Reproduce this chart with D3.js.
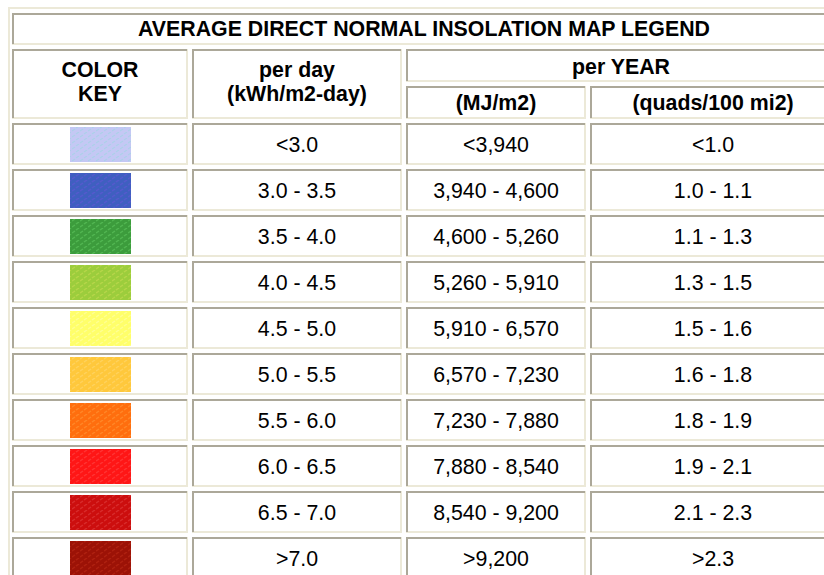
<!DOCTYPE html>
<html>
<head>
<meta charset="utf-8">
<script src="https://cdn.jsdelivr.net/npm/d3@7"></script>
<style>
  html, body { margin: 0; padding: 0; background: #ffffff; }
  svg { display: block; }
</style>
</head>
<body>
<svg id="chart" width="824" height="575"></svg>
<script>
// ---- data ----
const title = "AVERAGE DIRECT NORMAL INSOLATION MAP LEGEND";
const headerColorKey = ["COLOR", "KEY"];
const headerPerDay = ["per day", "(kWh/m2-day)"];
const headerPerYear = "per YEAR";
const headerUnits = ["(MJ/m2)", "(quads/100 mi2)"];
const perDay = ["<3.0", "3.0 - 3.5", "3.5 - 4.0", "4.0 - 4.5", "4.5 - 5.0", "5.0 - 5.5", "5.5 - 6.0", "6.0 - 6.5", "6.5 - 7.0", ">7.0"];
const perYearMJ = ["<3,940", "3,940 - 4,600", "4,600 - 5,260", "5,260 - 5,910", "5,910 - 6,570", "6,570 - 7,230", "7,230 - 7,880", "7,880 - 8,540", "8,540 - 9,200", ">9,200"];
const perYearQuads = ["<1.0", "1.0 - 1.1", "1.1 - 1.3", "1.3 - 1.5", "1.5 - 1.6", "1.6 - 1.8", "1.8 - 1.9", "1.9 - 2.1", "2.1 - 2.3", ">2.3"];
const swatchColors = ["#c4c8f4", "#3f5fc0", "#3c9c3c", "#9ccd3c", "#ffff6a", "#ffc83c", "#ff6e0e", "#ff1616", "#cc0e0e", "#9c1206"];
const swatchAccents = ["#a6d2e6", "#5b56d2", "#56bc56", "#bcd84c", "#ffff9c", "#ffd464", "#ff8c2c", "#ff3a3a", "#da3232", "#b42412"];

// ---- layout ----
const svg = d3.select("#chart");
const GRAY = "#aca899", BEIGE = "#ece9d8";
const FS = 21.33;
const FONT = "'Liberation Sans', Arial, Helvetica, sans-serif";
const colX = [12, 192, 406, 590];
const colW = [176, 210, 180, 246];

const rowScale = d3.scaleBand()
  .domain(d3.range(perDay.length))
  .range([123, 123 + 46 * perDay.length - 4])
  .paddingInner(4 / 46)
  .paddingOuter(0)
  .align(0);

// patterns
const defs = svg.append("defs");
swatchColors.forEach((c, i) => {
  const p = defs.append("pattern")
    .attr("id", "sw" + i).attr("patternUnits", "userSpaceOnUse")
    .attr("width", 8).attr("height", 6);
  p.append("rect").attr("width", 8).attr("height", 6).attr("fill", c);
  p.append("path").attr("d", "M0,5 L3,3 M4,2 L7,0")
    .attr("stroke", swatchAccents[i]).attr("stroke-width", 1.4).attr("opacity", 0.8);
});

// outer table border (outset: light top/left)
svg.append("rect").attr("x", 8).attr("y", 7).attr("width", 840).attr("height", 2).attr("fill", BEIGE);
svg.append("rect").attr("x", 8).attr("y", 7).attr("width", 2).attr("height", 600).attr("fill", BEIGE);

function cell(x, y, w, h) {
  const g = svg.append("g");
  g.append("rect").attr("x", x).attr("y", y).attr("width", w).attr("height", h).attr("fill", "#fff");
  g.append("rect").attr("x", x).attr("y", y + h - 2).attr("width", w).attr("height", 2).attr("fill", BEIGE);
  g.append("rect").attr("x", x + w - 2).attr("y", y).attr("width", 2).attr("height", h).attr("fill", BEIGE);
  g.append("rect").attr("x", x).attr("y", y).attr("width", w - 1).attr("height", 2).attr("fill", GRAY);
  g.append("rect").attr("x", x).attr("y", y).attr("width", 2).attr("height", h - 1).attr("fill", GRAY);
  return g;
}
function text(x, baseline, str, bold) {
  svg.append("text").attr("x", x).attr("y", baseline)
    .attr("text-anchor", "middle")
    .attr("font-family", FONT).attr("font-size", FS)
    .attr("font-weight", bold ? "bold" : "normal")
    .attr("fill", "#000").text(str);
}
const capHalf = 0.716 * FS / 2;

// title
const tableRight = colX[3] + colW[3];
cell(colX[0], 13, tableRight - colX[0], 32);
text((colX[0] + tableRight) / 2, 13 + 16 + capHalf - 0.5, title, true);

// header row
cell(colX[0], 49, colW[0], 70);
text(colX[0] + colW[0] / 2, 76.5, headerColorKey[0], true);
text(colX[0] + colW[0] / 2, 100.5, headerColorKey[1], true);
cell(colX[1], 49, colW[1], 70);
text(colX[1] + colW[1] / 2, 76.5, headerPerDay[0], true);
text(colX[1] + colW[1] / 2, 100.5, headerPerDay[1], true);
cell(colX[2], 49, tableRight - colX[2], 33);
text((colX[2] + tableRight) / 2, 74, headerPerYear, true);
cell(colX[2], 86, colW[2], 33);
text(colX[2] + colW[2] / 2, 110, headerUnits[0], true);
cell(colX[3], 86, colW[3], 33);
text(colX[3] + colW[3] / 2, 110, headerUnits[1], true);

// data rows
perDay.forEach((d, i) => {
  const y = Math.round(rowScale(i)), h = Math.round(rowScale.bandwidth());
  const base = y + h / 2 + capHalf;
  cell(colX[0], y, colW[0], h);
  svg.append("rect").attr("x", 70).attr("y", y + 4).attr("width", 61).attr("height", 35)
    .attr("fill", "url(#sw" + i + ")");
  cell(colX[1], y, colW[1], h);
  text(colX[1] + colW[1] / 2, base, perDay[i], false);
  cell(colX[2], y, colW[2], h);
  text(colX[2] + colW[2] / 2, base, perYearMJ[i], false);
  cell(colX[3], y, colW[3], h);
  text(colX[3] + colW[3] / 2, base, perYearQuads[i], false);
});
</script>
</body>
</html>
